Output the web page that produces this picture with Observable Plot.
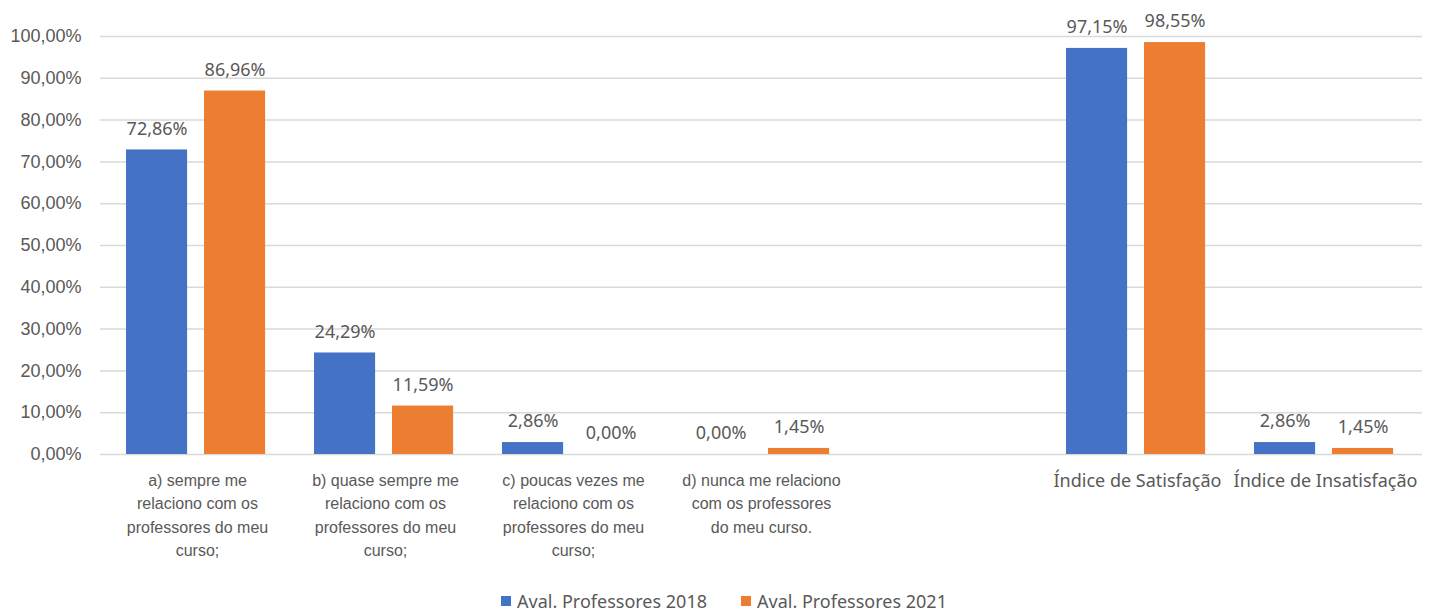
<!DOCTYPE html>
<html>
<head>
<meta charset="utf-8">
<script src="https://cdn.jsdelivr.net/npm/d3@7"></script>
<script src="https://cdn.jsdelivr.net/npm/@observablehq/plot@0.6"></script>
<style>
  body { margin: 0; background: #fff; }
  #legend { display: flex; justify-content: center; align-items: center; height: 34px; padding-left: 11px;
    font-family: "Noto Sans", sans-serif; font-size: 18px; color: #595959; gap: 34px; }
  #legend .item { display: flex; align-items: center; gap: 6px; }
  #legend .sw { width: 10px; height: 10px; display: inline-block; }
</style>
</head>
<body>
<div id="chart"></div>
<div id="legend"></div>
<script>
const catKeys = ["a", "b", "c", "d", "gap", "sat", "insat"];
const catLabels = [
  "a) sempre me\nrelaciono com os\nprofessores do meu\ncurso;",
  "b) quase sempre me\nrelaciono com os\nprofessores do meu\ncurso;",
  "c) poucas vezes me\nrelaciono com os\nprofessores do meu\ncurso;",
  "d) nunca me relaciono\ncom os professores\ndo meu curso.",
  "",
  "Índice de Satisfação",
  "Índice de Insatisfação"
];
const series = ["Aval. Professores 2018", "Aval. Professores 2021"];
const colors = ["#4472C4", "#ED7D31"];
const values2018 = [72.86, 24.29, 2.86, 0.00, null, 97.15, 2.86];
const values2021 = [86.96, 11.59, 0.00, 1.45, null, 98.55, 1.45];
const yTicks = [0, 10, 20, 30, 40, 50, 60, 70, 80, 90, 100];

const labelMap = Object.fromEntries(catKeys.map((k, i) => [k, catLabels[i]]));
const rows2018 = [], rows2021 = [];
catKeys.forEach((k, i) => {
  if (values2018[i] != null) rows2018.push({cat: k, series: series[0], value: values2018[i]});
  if (values2021[i] != null) rows2021.push({cat: k, series: series[1], value: values2021[i]});
});
const fmt = v => v.toFixed(2).replace(".", ",") + "%";
const labelStyle = {fontSize: 18, fontFamily: "Noto Sans, sans-serif", fill: "#595959"};

const chart = Plot.plot({
  width: 1437,
  height: 584,
  marginLeft: 100,
  marginRight: 15,
  marginTop: 36,
  marginBottom: 130,
  style: {fontFamily: "Liberation Sans, sans-serif", color: "#595959", background: "#fff"},
  x: {domain: catKeys, padding: 0, label: null},
  y: {domain: [0, 100], label: null},
  color: {domain: series, range: colors},
  marks: [
    Plot.gridY(yTicks, {stroke: "#d9d9d9", strokeOpacity: 1, strokeWidth: 1.5}),
    Plot.axisY(yTicks, {tickSize: 0, tickPadding: 19, tickFormat: fmt, fontSize: 18,
      fontFamily: "Liberation Sans, sans-serif", label: null}),
    Plot.barY(rows2018, {x: "cat", y: "value", fill: "series", insetLeft: 23, insetRight: 103.9}),
    Plot.barY(rows2021, {x: "cat", y: "value", fill: "series", insetLeft: 101, insetRight: 25.9}),
    Plot.text(rows2018, {x: "cat", y: "value", text: d => fmt(d.value), dx: -40.4, dy: -21, ...labelStyle}),
    Plot.text(rows2021, {x: "cat", y: "value", text: d => fmt(d.value), dx: 37.6, dy: -21, ...labelStyle}),
    Plot.axisX(["a", "b", "c", "d"], {tickSize: 0, tickPadding: 14.5, tickFormat: k => labelMap[k],
      fontSize: 16, lineHeight: 1.47, fontFamily: "Liberation Sans, sans-serif", label: null}),
    Plot.axisX(["sat", "insat"], {tickSize: 0, tickPadding: 20, tickFormat: k => labelMap[k],
      fontSize: 18, fontFamily: "Noto Sans, sans-serif", label: null})
  ]
});
document.getElementById("chart").appendChild(chart);

const legend = document.getElementById("legend");
series.forEach((s, i) => {
  const item = document.createElement("div");
  item.className = "item";
  const sw = document.createElement("span");
  sw.className = "sw";
  sw.style.background = colors[i];
  const t = document.createElement("span");
  t.textContent = s;
  item.appendChild(sw);
  item.appendChild(t);
  legend.appendChild(item);
});
</script>
</body>
</html>
